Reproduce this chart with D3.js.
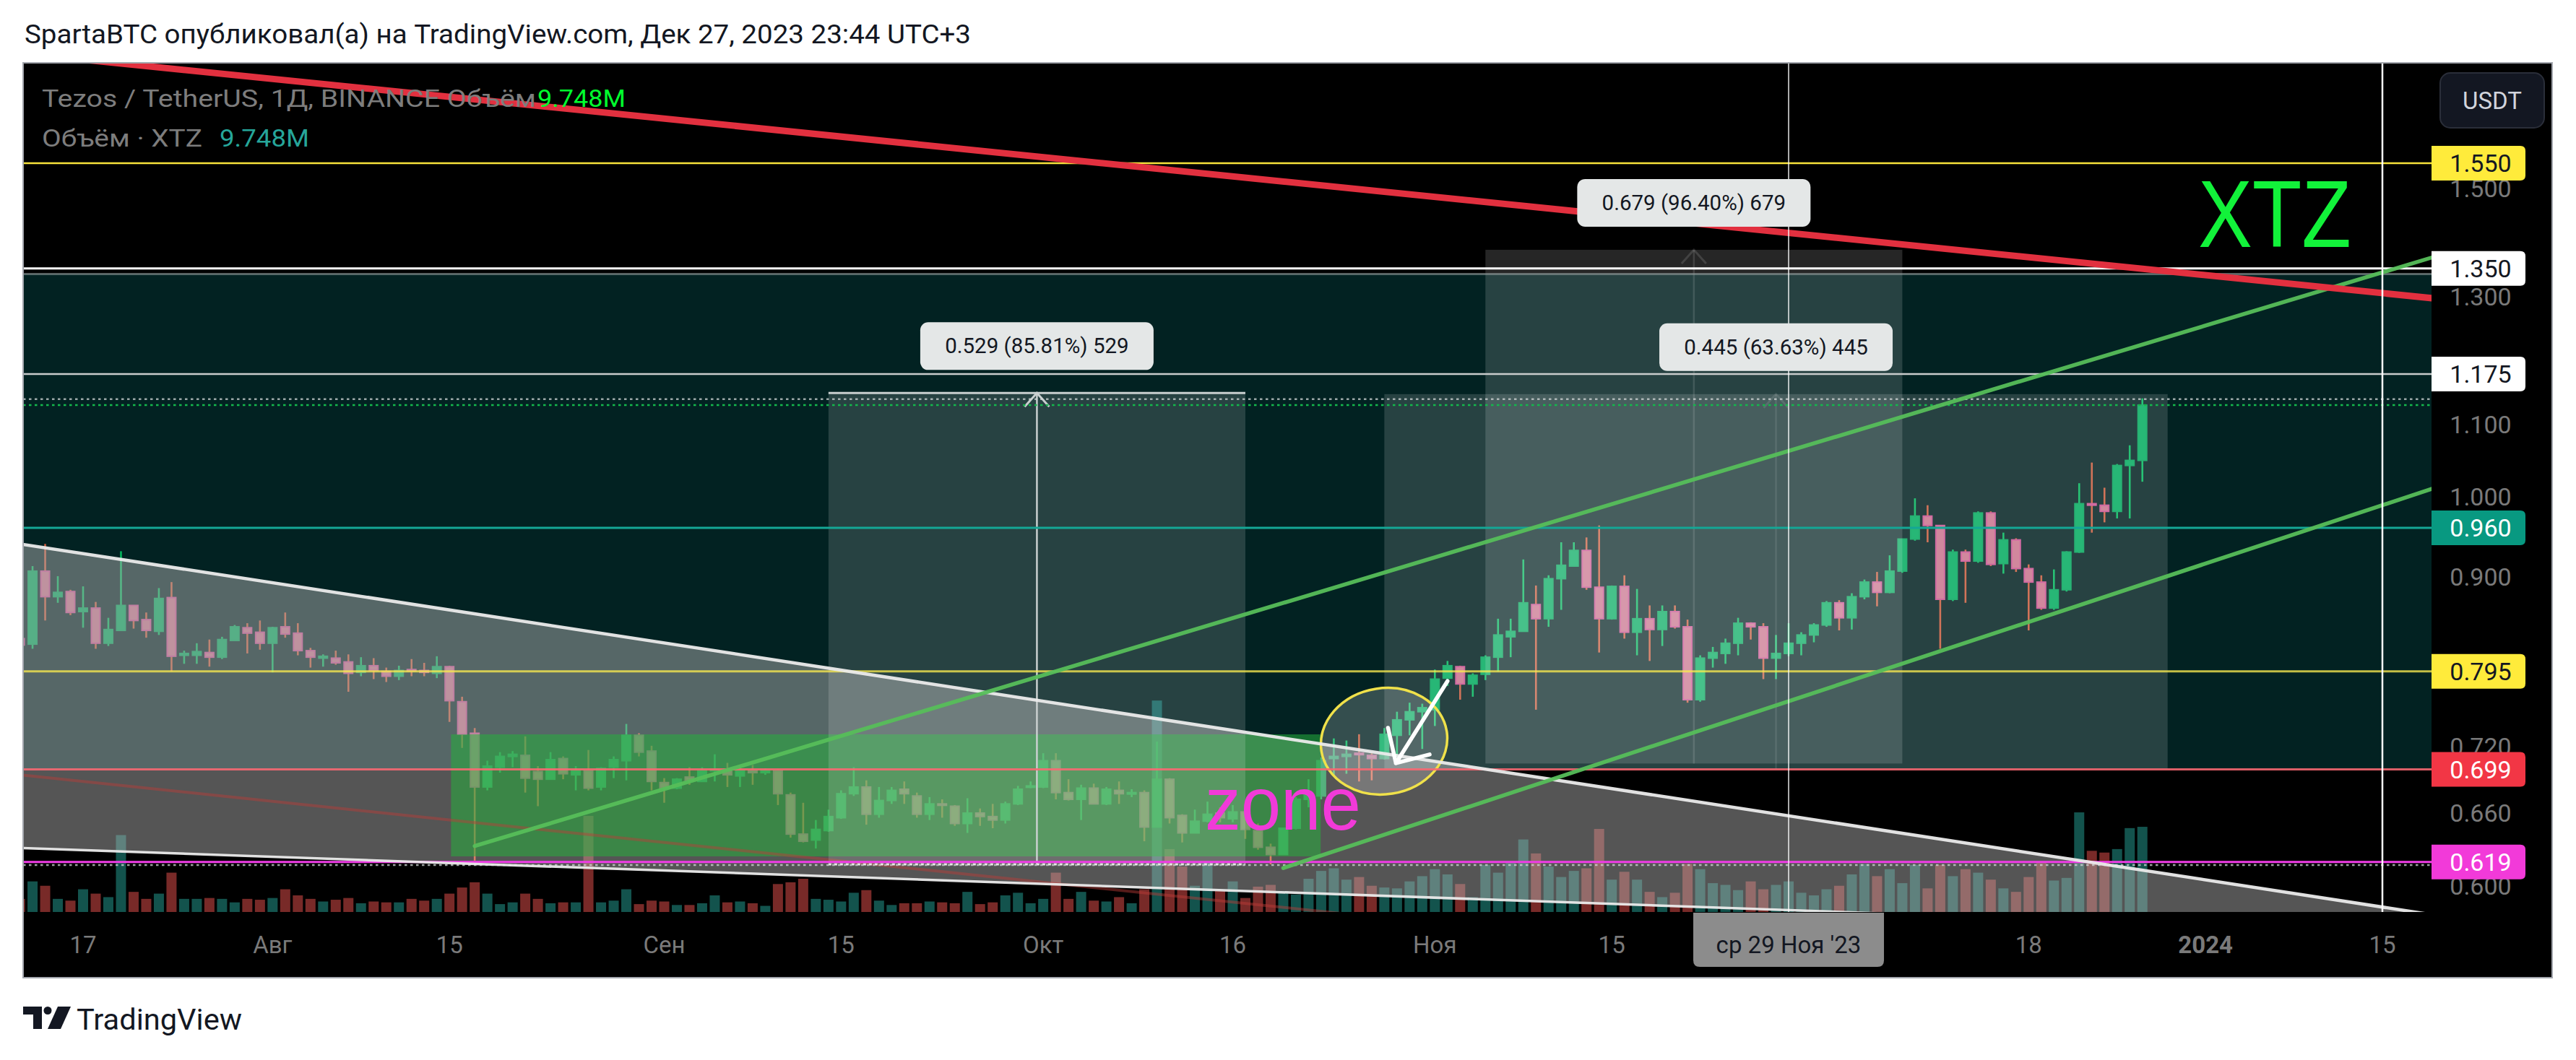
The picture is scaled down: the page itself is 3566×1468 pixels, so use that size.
<!DOCTYPE html>
<html lang="ru"><head><meta charset="utf-8">
<script src="https://cdn.jsdelivr.net/npm/d3@7/dist/d3.min.js"></script>
<style>
html,body{margin:0;padding:0;background:#ffffff;overflow:hidden;}
svg{display:block;}
</style></head><body>
<svg id="chart" width="3566" height="1468" xmlns="http://www.w3.org/2000/svg"></svg>
<script>
// ---------------- DATA ----------------
const startDate = "2023-07-12"; // first daily bar, bars are consecutive days
const opens = [
0.830,0.824,0.907,0.877,0.883,0.860,0.864,0.825,0.839,0.867,0.851,0.838,0.876,0.812,0.812,0.815,0.810,0.828,0.842,0.837,
0.825,0.843,0.836,0.817,0.809,0.809,0.805,0.794,0.801,0.795,0.790,0.797,0.796,0.793,0.800,0.764,0.733,0.683,0.701,0.711,0.712,0.697,0.690,0.709,0.694,0.698,0.683,0.701,0.707,0.731,0.716,
0.687,0.682,0.692,0.688,0.698,0.698,0.693,0.698,0.696,0.698,0.676,0.642,0.637,0.645,0.656,0.677,0.683,0.659,0.671,0.681,0.675,0.659,0.668,0.666,0.651,0.660,0.657,0.654,0.668,0.683,
0.683,0.707,0.678,0.672,0.682,0.668,0.680,0.677,0.678,0.648,0.690,0.658,0.643,0.653,0.660,0.655,0.661,0.645,0.631,0.625,0.647,0.672,0.675,0.709,0.711,0.714,0.712,0.709,0.731,0.746,0.754,
0.756,0.788,0.800,0.782,0.792,0.810,0.832,0.838,0.868,0.852,0.898,0.913,0.932,0.888,0.852,0.889,0.837,0.852,0.840,0.860,0.843,0.766,0.809,0.814,0.825,0.847,0.843,0.809,0.814,0.825,
0.834,0.845,0.870,0.853,0.877,0.894,0.882,0.907,0.946,0.975,0.963,0.874,0.930,0.919,0.979,0.916,0.945,0.910,0.894,0.864,0.885,0.930,0.991,0.989,0.981,1.042,1.049];
const highs = [
0.832,0.913,0.940,0.901,0.885,0.889,0.871,0.853,0.931,0.867,0.859,0.887,0.894,0.817,0.825,0.829,0.832,0.845,0.847,0.850,
0.843,0.859,0.847,0.820,0.813,0.817,0.813,0.810,0.809,0.799,0.801,0.808,0.804,0.811,0.801,0.769,0.738,0.707,0.715,0.716,0.730,0.702,0.715,0.711,0.702,0.717,0.701,0.711,0.742,0.733,0.721,
0.691,0.691,0.701,0.701,0.713,0.705,0.703,0.703,0.700,0.699,0.678,0.669,0.654,0.663,0.680,0.701,0.689,0.683,0.683,0.688,0.678,0.674,0.672,0.667,0.673,0.664,0.668,0.670,0.684,0.688,
0.714,0.714,0.690,0.685,0.686,0.683,0.688,0.681,0.680,0.725,0.691,0.659,0.663,0.670,0.665,0.667,0.664,0.651,0.634,0.647,0.674,0.690,0.710,0.728,0.726,0.732,0.714,0.738,0.754,0.763,0.762,
0.797,0.806,0.801,0.793,0.812,0.852,0.852,0.921,0.890,0.902,0.942,0.942,0.948,0.963,0.890,0.902,0.886,0.867,0.867,0.867,0.851,0.812,0.821,0.830,0.853,0.848,0.847,0.834,0.847,0.837,
0.847,0.872,0.873,0.881,0.897,0.906,0.926,0.946,0.998,0.989,0.963,0.933,0.933,0.981,0.981,0.954,0.947,0.915,0.902,0.909,0.931,1.018,1.046,1.012,1.044,1.070,1.138];
const lows = [
0.822,0.819,0.850,0.870,0.856,0.842,0.819,0.822,0.839,0.841,0.831,0.834,0.795,0.803,0.803,0.800,0.808,0.828,0.814,0.818,
0.794,0.831,0.812,0.799,0.800,0.802,0.774,0.790,0.787,0.784,0.786,0.790,0.790,0.788,0.744,0.719,0.620,0.680,0.696,0.701,0.678,0.666,0.690,0.690,0.680,0.680,0.680,0.691,0.689,0.711,0.680,
0.669,0.681,0.685,0.688,0.688,0.683,0.683,0.685,0.694,0.667,0.639,0.635,0.630,0.644,0.655,0.675,0.650,0.656,0.668,0.668,0.656,0.654,0.656,0.649,0.643,0.649,0.647,0.651,0.667,0.682,
0.682,0.672,0.671,0.654,0.668,0.667,0.668,0.674,0.636,0.648,0.651,0.635,0.643,0.652,0.652,0.652,0.638,0.629,0.617,0.625,0.646,0.665,0.672,0.694,0.695,0.688,0.689,0.708,0.710,0.731,0.718,
0.740,0.780,0.766,0.769,0.786,0.795,0.810,0.838,0.756,0.843,0.862,0.913,0.885,0.815,0.851,0.830,0.812,0.806,0.822,0.841,0.763,0.764,0.799,0.803,0.812,0.829,0.787,0.787,0.811,0.812,
0.826,0.843,0.839,0.840,0.874,0.866,0.881,0.905,0.944,0.942,0.819,0.872,0.870,0.917,0.913,0.904,0.906,0.839,0.862,0.862,0.883,0.929,0.954,0.967,0.972,0.972,1.020];
const closes = [
0.823,0.907,0.877,0.882,0.859,0.864,0.825,0.840,0.867,0.850,0.839,0.875,0.811,0.814,0.816,0.810,0.829,0.843,0.836,0.825,
0.842,0.835,0.817,0.810,0.811,0.804,0.793,0.801,0.796,0.790,0.796,0.796,0.794,0.800,0.765,0.732,0.683,0.702,0.711,0.713,0.691,0.690,0.708,0.695,0.698,0.682,0.700,0.708,0.731,0.715,0.688,
0.682,0.690,0.689,0.698,0.699,0.694,0.698,0.696,0.698,0.677,0.642,0.636,0.646,0.657,0.677,0.683,0.659,0.671,0.680,0.677,0.659,0.668,0.667,0.651,0.660,0.657,0.654,0.668,0.681,0.684,
0.707,0.678,0.672,0.682,0.668,0.681,0.677,0.678,0.648,0.690,0.656,0.643,0.653,0.659,0.656,0.661,0.646,0.631,0.625,0.647,0.672,0.676,0.707,0.711,0.713,0.713,0.709,0.732,0.746,0.754,0.758,
0.787,0.801,0.782,0.791,0.810,0.834,0.838,0.870,0.852,0.898,0.914,0.932,0.888,0.852,0.889,0.837,0.852,0.840,0.860,0.843,0.766,0.809,0.815,0.825,0.847,0.843,0.809,0.814,0.825,0.834,
0.845,0.870,0.853,0.877,0.894,0.882,0.907,0.946,0.975,0.963,0.874,0.930,0.919,0.979,0.915,0.945,0.910,0.894,0.864,0.885,0.930,0.991,0.989,0.981,1.042,1.049,1.128];
const volumes = [ // millions XTZ
1.5,3.5,3.0,1.5,1.3,2.6,2.1,1.7,8.8,2.3,1.5,2.1,4.5,1.5,1.5,1.6,1.5,1.1,1.5,1.4,
1.6,2.6,1.9,1.5,1.2,1.4,1.6,1.0,1.2,1.1,1.1,1.5,1.3,1.5,2.1,2.8,3.4,2.1,0.9,1.1,2.1,1.5,1.0,1.1,1.1,11.0,1.1,1.3,2.6,0.9,1.3,
1.2,0.8,0.8,1.0,1.9,1.1,1.2,1.0,0.7,3.2,3.4,3.8,1.5,1.4,1.2,2.2,2.5,1.3,0.8,1.0,1.0,1.2,1.1,1.0,2.3,0.9,1.1,1.9,2.2,1.0,
1.5,4.5,1.5,2.3,1.3,1.2,1.7,1.0,2.6,24.2,7.2,5.2,3.0,5.7,2.4,3.5,1.6,2.9,3.1,2.4,2.0,3.8,4.7,5.0,3.7,4.0,3.0,2.8,2.7,3.5,4.1,
4.9,4.3,3.2,1.7,5.4,4.5,5.6,8.3,6.7,5.2,4.0,4.7,5.0,9.5,3.7,4.6,3.7,2.3,1.7,2.2,5.5,4.9,3.3,3.1,2.5,3.5,2.6,3.1,3.5,2.2,
1.9,2.6,3.0,4.3,5.5,4.1,4.9,3.3,5.4,2.7,5.4,4.1,4.9,4.5,3.7,2.7,2.3,4.0,5.6,3.6,3.9,11.4,7.0,6.8,7.2,9.6,9.748];

const priceTicks = [0.6, 0.66, 0.72, 0.9, 1.0, 1.1, 1.3, 1.5];
const levelValues = [1.55, 1.35, 1.175, 0.96, 0.795, 0.699, 0.619];
const levelLabels = ["1.550", "1.350", "1.175", "0.960", "0.795", "0.699", "0.619"];
const timeTickDates = ["2023-07-17","2023-08-01","2023-08-15","2023-09-01","2023-09-15","2023-10-01","2023-10-16","2023-11-01","2023-11-15","2023-12-18","2024-01-01","2024-01-15"];
const timeTickLabels = ["17","Авг","15","Сен","15","Окт","16","Ноя","15","18","2024","15"];

// drawings (anchor points: date, price)
const tealBox = [0.699, 1.34];
const redTrend = [["2023-07-10", 1.797], ["2024-01-19", 1.298]];
const redTrendFaint = [["2023-07-12", 0.694], ["2023-11-01", 0.571]];
const greenUpper = [["2023-08-17", 0.632], ["2024-01-19", 1.370]];
const greenLower = [["2023-10-20", 0.614], ["2024-01-19", 1.011]];
const wedgeUpper = [["2023-07-12", 0.940], ["2024-01-31", 0.560]];
const wedgeLower = [["2023-07-12", 0.6305], ["2024-01-31", 0.560]];
const zoneBox = [["2023-08-15T03:00", 0.7319], ["2023-10-22T23:00", 0.6235]];
const measureFrom = ["2023-10-28", "2023-11-05", "2023-09-14"];
const measureTo = ["2023-12-29", "2023-12-08", "2023-10-17"];
const measureLow = [0.6994, 0.7044, 0.617];
const measureHigh = [1.1444, 1.3834, 1.146];
const measureText = ["0.445 (63.63%) 445", "0.679 (96.40%) 679", "0.529 (85.81%) 529"];
const circleBox = [["2023-10-22T23:00", 0.7777], ["2023-11-02", 0.6765]];
const arrowPath = [["2023-11-02", 0.785], ["2023-10-28T22:00", 0.7047]];
const arrowWings = [["2023-10-28T07:00", 0.7382], ["2023-10-31T14:00", 0.7128]];
const dottedLevels = [1.137, 0.6165];
const crossDate = "2023-11-29";
const vLineDate = "2024-01-15";
const zoneTextAt = ["2023-10-13T19:00", 0.6458];
const xtzTextAt = ["2023-12-31T10:00", 1.3885];

// ---------------- CHART ----------------
const svg = d3.select("#chart");
const FONT = "Roboto, 'Noto Sans', 'DejaVu Sans', sans-serif";
const L = 32, R = 3366, T = 87, B = 1263;
const P = s => new Date(s.length === 10 ? s + "T00:00:00Z" : s + ":00Z");
const x = d3.scaleUtc().domain([P("2023-07-17"), P("2024-01-15")]).range([115, 3298]);
const y = d3.scaleLog().domain([0.6, 1.5]).range([1226.5, 260.6]);
const yv = d3.scaleLinear().domain([0, 100]).range([B, B - 1210]);
const pt = a => [x(P(a[0])), y(a[1])];
const dates = opens.map((_, i) => d3.utcDay.offset(P(startDate), i));
const rows = dates.map((d, i) => ({d, o: opens[i], h: highs[i], l: lows[i], c: closes[i], v: volumes[i]}));

svg.append("rect").attr("width", 3566).attr("height", 1468).attr("fill", "#ffffff");

// header title
svg.append("text").attr("x", 34).attr("y", 60).attr("font-family", FONT).attr("font-size", 36)
  .attr("fill", "#131722").attr("textLength", 1310).attr("lengthAdjust", "spacingAndGlyphs")
  .text("SpartaBTC опубликовал(а) на TradingView.com, Дек 27, 2023 23:44 UTC+3");

// panel
svg.append("rect").attr("x", L).attr("y", T).attr("width", 3533 - L).attr("height", 1354 - T).attr("fill", "#000");

const defs = svg.append("defs");
defs.append("clipPath").attr("id", "plotClip").append("rect")
  .attr("x", L).attr("y", T).attr("width", R - L).attr("height", B - T);
const plot = svg.append("g").attr("clip-path", "url(#plotClip)");

// volume bars
plot.append("g").selectAll("rect").data(rows).join("rect")
  .attr("x", r => x(r.d) - 7).attr("width", 14)
  .attr("y", r => yv(r.v)).attr("height", r => B - yv(r.v))
  .attr("fill", r => r.c >= r.o ? "rgba(38,166,154,0.5)" : "rgba(239,83,80,0.5)");

// candles
const cg = plot.append("g");
cg.selectAll("line").data(rows).join("line")
  .attr("x1", r => x(r.d)).attr("x2", r => x(r.d))
  .attr("y1", r => y(r.h)).attr("y2", r => y(r.l))
  .attr("stroke", r => r.c >= r.o ? "#00c04c" : "#ff4a22").attr("stroke-width", 2.6);
cg.selectAll("rect").data(rows).join("rect")
  .attr("x", r => x(r.d) - 6).attr("width", 12)
  .attr("y", r => y(Math.max(r.o, r.c)))
  .attr("height", r => Math.max(2, y(Math.min(r.o, r.c)) - y(Math.max(r.o, r.c))))
  .attr("fill", r => r.c >= r.o ? "#00b04e" : "#ff6888")
  .attr("stroke", r => r.c >= r.o ? "#00a84a" : "#ff3c90").attr("stroke-width", 2);

// teal background rectangle
plot.append("rect").attr("x", L).attr("width", R - L)
  .attr("y", y(tealBox[1])).attr("height", y(tealBox[0]) - y(tealBox[1]))
  .attr("fill", "rgba(8,153,153,0.22)");

// wedge fill
plot.append("path")
  .attr("d", d3.line()([pt(wedgeUpper[0]), pt(wedgeUpper[1]), pt(wedgeLower[0])]) + "Z")
  .attr("fill", "rgba(180,180,180,0.47)");

// green zone
{
  const a = pt(zoneBox[0]), b = pt(zoneBox[1]);
  plot.append("rect").attr("x", a[0]).attr("y", a[1]).attr("width", b[0] - a[0]).attr("height", b[1] - a[1])
    .attr("fill", "rgba(38,175,60,0.55)");
}

// faint red channel line
{
  const a = pt(redTrendFaint[0]), b = pt(redTrendFaint[1]);
  plot.append("line").attr("x1", a[0]).attr("y1", a[1]).attr("x2", b[0]).attr("y2", b[1])
    .attr("stroke", "rgba(190,60,55,0.45)").attr("stroke-width", 4);
}

// measure rectangles
measureFrom.forEach((f, i) => {
  const x0 = x(P(f)), x1 = x(P(measureTo[i])), yt = y(measureHigh[i]), yb = y(measureLow[i]);
  plot.append("rect").attr("x", x0).attr("y", yt).attr("width", x1 - x0).attr("height", yb - yt)
    .attr("fill", "rgba(255,255,255,0.15)");
  const xm = (x0 + x1) / 2;
  const strong = i === 2;
  const col = strong ? "#c9cfcf" : (i === 1 ? "rgba(255,255,255,0.13)" : "rgba(255,255,255,0.10)");
  plot.append("line").attr("x1", xm).attr("x2", xm).attr("y1", yb).attr("y2", yt)
    .attr("stroke", col).attr("stroke-width", 2.5);
  plot.append("path").attr("d", `M${xm - 17},${yt + 19}L${xm},${yt}L${xm + 17},${yt + 19}`)
    .attr("fill", "none").attr("stroke", col).attr("stroke-width", 3);
  if (strong) {
    plot.append("line").attr("x1", x0).attr("x2", x1).attr("y1", yt).attr("y2", yt)
      .attr("stroke", "#c9cfcf").attr("stroke-width", 3);
    plot.append("line").attr("x1", x0).attr("x2", x1).attr("y1", yb).attr("y2", yb)
      .attr("stroke", "#e6e6e6").attr("stroke-width", 3).attr("stroke-dasharray", "4 4");
  }
});

// ellipse highlight
{
  const a = pt(circleBox[0]), b = pt(circleBox[1]);
  const cx = (a[0] + b[0]) / 2, cy = (a[1] + b[1]) / 2;
  plot.append("ellipse").attr("cx", cx).attr("cy", cy).attr("rx", (b[0] - a[0]) / 2).attr("ry", (b[1] - a[1]) / 2)
    .attr("transform", `rotate(-9 ${cx} ${cy})`)
    .attr("fill", "rgba(255,255,255,0.2)").attr("stroke", "#f0e14a").attr("stroke-width", 3.5);
}

// horizontal levels
const levelStyle = {
  "1.550": ["#f7e23b", 2.5], "1.350": ["#ffffff", 3], "1.175": ["#c9cccc", 2.5],
  "0.960": ["#14a796", 3], "0.795": ["rgba(250,235,80,0.78)", 3], "0.699": ["rgba(250,105,115,0.88)", 3],
  "0.619": ["#f03ce6", 3]
};
plot.append("line").attr("x1", L).attr("x2", R).attr("y1", y(tealBox[1])).attr("y2", y(tealBox[1]))
  .attr("stroke", "rgba(150,160,160,0.6)").attr("stroke-width", 3);
levelValues.forEach((v, i) => {
  const s = levelStyle[levelLabels[i]];
  plot.append("line").attr("x1", L).attr("x2", R).attr("y1", y(v)).attr("y2", y(v))
    .attr("stroke", s[0]).attr("stroke-width", s[1]);
});
dottedLevels.forEach(v => {
  plot.append("line").attr("x1", L).attr("x2", R).attr("y1", y(v)).attr("y2", y(v))
    .attr("stroke", "rgba(210,215,215,0.75)").attr("stroke-width", 2.5).attr("stroke-dasharray", "3.5 4.5");
});
// last price line
{
  const lp = closes[closes.length - 1];
  plot.append("line").attr("x1", L).attr("x2", R).attr("y1", y(lp)).attr("y2", y(lp))
    .attr("stroke", "#14b84c").attr("stroke-width", 2.5).attr("stroke-dasharray", "3.5 4.5");
}

// trend lines
function tline(pts, color, w) {
  const a = pt(pts[0]), b = pt(pts[1]);
  plot.append("line").attr("x1", a[0]).attr("y1", a[1]).attr("x2", b[0]).attr("y2", b[1])
    .attr("stroke", color).attr("stroke-width", w).attr("stroke-linecap", "round");
}
tline(wedgeUpper, "rgba(235,235,235,0.95)", 4.5);
tline(wedgeLower, "rgba(235,235,235,0.95)", 3.5);
tline(greenUpper, "rgba(86,190,90,0.95)", 5.5);
tline(greenLower, "rgba(86,190,90,0.95)", 5.5);
tline(redTrend, "#e2303f", 9);

// white arrow
{
  const a = pt(arrowPath[0]), b = pt(arrowPath[1]), w1 = pt(arrowWings[0]), w2 = pt(arrowWings[1]);
  plot.append("path").attr("d", `M${a[0]},${a[1]}L${b[0]},${b[1]}M${w1[0]},${w1[1]}L${b[0]},${b[1]}L${w2[0]},${w2[1]}`)
    .attr("fill", "none").attr("stroke", "#ffffff").attr("stroke-width", 5.5)
    .attr("stroke-linecap", "round").attr("stroke-linejoin", "round");
}

// vertical lines
plot.append("line").attr("x1", x(P(crossDate))).attr("x2", x(P(crossDate))).attr("y1", T).attr("y2", B)
  .attr("stroke", "rgba(255,255,255,0.85)").attr("stroke-width", 1.6);
plot.append("line").attr("x1", x(P(vLineDate))).attr("x2", x(P(vLineDate))).attr("y1", T).attr("y2", B)
  .attr("stroke", "#ffffff").attr("stroke-width", 2.5);

// texts on chart
{
  const z = pt(zoneTextAt);
  plot.append("text").attr("x", z[0]).attr("y", z[1]).attr("font-family", "'Liberation Sans', Arial, sans-serif")
    .attr("font-size", 104).attr("fill", "#f13ad8").attr("textLength", 216).attr("lengthAdjust", "spacingAndGlyphs")
    .text("zone");
  const t = pt(xtzTextAt);
  plot.append("text").attr("x", t[0]).attr("y", t[1]).attr("font-family", "'Liberation Sans', Arial, sans-serif")
    .attr("font-size", 132).attr("fill", "#12f23a").attr("textLength", 212).attr("lengthAdjust", "spacingAndGlyphs")
    .text("XTZ");
}

// measure labels
measureFrom.forEach((f, i) => {
  const x0 = x(P(f)), x1 = x(P(measureTo[i])), yt = y(measureHigh[i]);
  const xm = (x0 + x1) / 2, bw = 323, bh = 66, by = yt - 32 - bh;
  plot.append("rect").attr("x", xm - bw / 2).attr("y", by).attr("width", bw).attr("height", bh)
    .attr("rx", 11).attr("fill", "#e4e7e7");
  plot.append("text").attr("x", xm).attr("y", by + bh / 2 + 10).attr("text-anchor", "middle")
    .attr("font-family", FONT).attr("font-size", 29.5).attr("fill", "#131722").text(measureText[i]);
});

// legend
svg.append("text").attr("x", 58).attr("y", 148).attr("font-family", FONT).attr("font-size", 34)
  .attr("fill", "#7d7d7d").attr("textLength", 684).attr("lengthAdjust", "spacingAndGlyphs")
  .text("Tezos / TetherUS, 1Д, BINANCE  Объём");
svg.append("text").attr("x", 744).attr("y", 148).attr("font-family", FONT).attr("font-size", 34)
  .attr("fill", "#00ff2e").attr("textLength", 122).attr("lengthAdjust", "spacingAndGlyphs").text("9.748M");
svg.append("text").attr("x", 58).attr("y", 203).attr("font-family", FONT).attr("font-size", 34)
  .attr("fill", "#7d7d7d").attr("textLength", 222).attr("lengthAdjust", "spacingAndGlyphs").text("Объём · XTZ");
svg.append("text").attr("x", 304).attr("y", 203).attr("font-family", FONT).attr("font-size", 34)
  .attr("fill", "#26a69a").attr("textLength", 124).attr("lengthAdjust", "spacingAndGlyphs").text("9.748M");

// price axis
const ax = svg.append("g");
priceTicks.forEach(v => {
  ax.append("text").attr("x", 3434).attr("y", y(v) + 12).attr("text-anchor", "middle")
    .attr("font-family", FONT).attr("font-size", 34).attr("fill", "#7a7a7a").text(d3.format(".3f")(v));
});
const labelStyle = {
  "1.550": ["#ffeb3b", "#131722"], "1.350": ["#ffffff", "#131722"], "1.175": ["#ffffff", "#131722"],
  "0.960": ["#089981", "#ffffff"], "0.795": ["#ffeb3b", "#131722"], "0.699": ["#f23645", "#ffffff"],
  "0.619": ["#f23ad9", "#ffffff"]
};
levelValues.forEach((v, i) => {
  const s = labelStyle[levelLabels[i]], cy = y(v), h = 48, x0 = 3366, w = 130, r = 7;
  ax.append("path")
    .attr("d", `M${x0},${cy - h / 2}H${x0 + w - r}Q${x0 + w},${cy - h / 2} ${x0 + w},${cy - h / 2 + r}V${cy + h / 2 - r}Q${x0 + w},${cy + h / 2} ${x0 + w - r},${cy + h / 2}H${x0}Z`)
    .attr("fill", s[0]);
  ax.append("text").attr("x", 3434).attr("y", cy + 12).attr("text-anchor", "middle")
    .attr("font-family", FONT).attr("font-size", 34).attr("fill", s[1]).text(levelLabels[i]);
});
// USDT button
ax.append("rect").attr("x", 3378).attr("y", 101).attr("width", 144).attr("height", 76).attr("rx", 14)
  .attr("fill", "#131722").attr("stroke", "#2a2e39").attr("stroke-width", 2);
ax.append("text").attr("x", 3450).attr("y", 151).attr("text-anchor", "middle")
  .attr("font-family", FONT).attr("font-size", 33).attr("fill", "#d1d4dc").text("USDT");

// time axis
timeTickDates.forEach((d, i) => {
  svg.append("text").attr("x", x(P(d))).attr("y", 1320).attr("text-anchor", "middle")
    .attr("font-family", FONT).attr("font-size", 33)
    .attr("font-weight", timeTickLabels[i] === "2024" ? "bold" : "normal")
    .attr("fill", "#7a7a7a").text(timeTickLabels[i]);
});
{
  const cx = x(P(crossDate));
  svg.append("path")
    .attr("d", `M${cx - 132},1264H${cx + 132}V1330Q${cx + 132},1339 ${cx + 123},1339H${cx - 123}Q${cx - 132},1339 ${cx - 132},1330Z`)
    .attr("fill", "#8c8c8c");
  svg.append("text").attr("x", cx).attr("y", 1320).attr("text-anchor", "middle")
    .attr("font-family", FONT).attr("font-size", 33).attr("fill", "#131722").text("ср 29 Ноя '23");
}

// panel border
svg.append("rect").attr("x", L).attr("y", T).attr("width", 3533 - L).attr("height", 1354 - T)
  .attr("fill", "none").attr("stroke", "#a3a6ad").attr("stroke-width", 2);

// TradingView logo
{
  const g = svg.append("g").attr("fill", "#131722");
  g.append("path").attr("d", "M32,1394H58V1425H46V1405H32Z");
  g.append("circle").attr("cx", 66).attr("cy", 1399.5).attr("r", 5.5);
  g.append("path").attr("d", "M80,1394H98L84,1425H66Z");
  svg.append("text").attr("x", 106).attr("y", 1426).attr("font-family", FONT).attr("font-size", 40)
    .attr("fill", "#131722").attr("textLength", 229).attr("lengthAdjust", "spacingAndGlyphs").text("TradingView");
}
</script>
</body></html>
